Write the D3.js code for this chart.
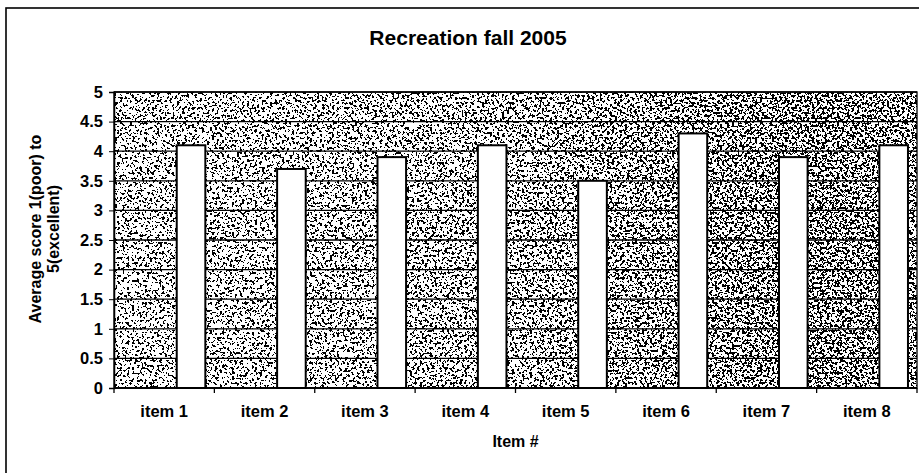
<!DOCTYPE html>
<html>
<head>
<meta charset="utf-8">
<script src="https://cdn.jsdelivr.net/npm/d3@7"></script>
<style>
  body { margin: 0; background: #fff; }
  svg { display: block; font-family: "Liberation Sans", Arial, sans-serif; font-weight: bold; }
</style>
</head>
<body>
<div id="chart"></div>
<script>
var svgWidth = 919;
var svgHeight = 473;

// chart data
var items = ["item 1", "item 2", "item 3", "item 4", "item 5", "item 6", "item 7", "item 8"];
var scores = [4.1, 3.7, 3.9, 4.1, 3.5, 4.3, 3.9, 4.1];
var yTicks = [0, 0.5, 1, 1.5, 2, 2.5, 3, 3.5, 4, 4.5, 5];

var plot = { left: 114, right: 917, top: 92, bottom: 388 };

var svg = d3.select("#chart").append("svg")
    .attr("width", svgWidth)
    .attr("height", svgHeight);

// speckled grey texture of the plot area
var defs = svg.append("defs");
var grad = defs.append("linearGradient").attr("id", "shade");
grad.append("stop").attr("offset", "0%").attr("stop-color", "rgb(149,149,149)");
grad.append("stop").attr("offset", "50%").attr("stop-color", "rgb(143,143,143)");
grad.append("stop").attr("offset", "88%").attr("stop-color", "rgb(131,131,131)");
grad.append("stop").attr("offset", "100%").attr("stop-color", "rgb(135,135,135)");

var grain = defs.append("filter").attr("id", "grain")
    .attr("x", 0).attr("y", 0).attr("width", 1).attr("height", 1)
    .attr("color-interpolation-filters", "sRGB");
grain.append("feTurbulence")
    .attr("type", "fractalNoise").attr("baseFrequency", 0.4)
    .attr("numOctaves", 2).attr("seed", 7).attr("result", "noise");
grain.append("feColorMatrix").attr("in", "noise").attr("type", "matrix")
    .attr("values", "-1 0 0 0 1  -1 0 0 0 1  -1 0 0 0 1  0 0 0 0 1")
    .attr("result", "inv");
grain.append("feComposite").attr("in", "SourceGraphic").attr("in2", "inv")
    .attr("operator", "arithmetic")
    .attr("k1", 0).attr("k2", 1).attr("k3", 1).attr("k4", -0.5)
    .attr("result", "mix");
var ct = grain.append("feComponentTransfer").attr("in", "mix");
["feFuncR", "feFuncG", "feFuncB"].forEach(function(f) {
    ct.append(f).attr("type", "discrete").attr("tableValues", "0 1");
});
ct.append("feFuncA").attr("type", "linear").attr("slope", 0).attr("intercept", 1);

// outer frame
svg.append("rect")
    .attr("x", 6).attr("y", 8)
    .attr("width", 940).attr("height", 480)
    .attr("fill", "none").attr("stroke", "#000").attr("stroke-width", 1.6);

var xScale = d3.scaleBand()
    .domain(items)
    .range([plot.left, plot.right])
    .padding(0);

var yScale = d3.scaleLinear()
    .domain([0, 5])
    .range([plot.bottom, plot.top]);

// plot area background
svg.append("rect")
    .attr("x", plot.left).attr("y", plot.top)
    .attr("width", plot.right - plot.left).attr("height", plot.bottom - plot.top)
    .attr("fill", "url(#shade)")
    .attr("filter", "url(#grain)");

// gridlines
svg.append("g").selectAll("line")
    .data(yTicks)
    .enter().append("line")
    .attr("x1", plot.left).attr("x2", plot.right)
    .attr("y1", d => yScale(d)).attr("y2", d => yScale(d))
    .attr("stroke", "#000").attr("stroke-width", 1.3);

svg.append("rect")
    .attr("x", plot.left).attr("y", plot.top)
    .attr("width", plot.right - plot.left).attr("height", plot.bottom - plot.top)
    .attr("fill", "none").attr("stroke", "#000").attr("stroke-width", 1.3);

// bars (sit right of the category centre)
var bw = xScale.bandwidth();
svg.append("g").selectAll("rect")
    .data(scores)
    .enter().append("rect")
    .attr("x", (d, i) => xScale(items[i]) + bw * 0.625)
    .attr("width", bw * 0.285)
    .attr("y", d => yScale(d))
    .attr("height", d => yScale(0) - yScale(d))
    .attr("fill", "#fff")
    .attr("stroke", "#000")
    .attr("stroke-width", 2);

// y axis
var yAxis = svg.append("g")
    .attr("transform", `translate(${plot.left},0)`)
    .call(d3.axisLeft(yScale).tickValues(yTicks).tickSize(5).tickPadding(6).tickFormat(d3.format("")));
yAxis.selectAll("text").attr("font-size", 16.5).attr("font-family", "Liberation Sans, Arial, sans-serif").attr("font-weight", "bold").attr("fill", "#000");
yAxis.select(".domain").attr("stroke-width", 1.5);

// x axis: ticks on category boundaries
var xAxis = svg.append("g")
    .attr("transform", `translate(0,${plot.bottom})`);
xAxis.append("line")
    .attr("x1", plot.left).attr("x2", plot.right)
    .attr("stroke", "#000").attr("stroke-width", 1.5);
xAxis.selectAll(".tick")
    .data(items.concat(["end"]))
    .enter().append("line")
    .attr("x1", (d, i) => i < items.length ? xScale(d) : plot.right)
    .attr("x2", (d, i) => i < items.length ? xScale(d) : plot.right)
    .attr("y1", 0).attr("y2", 5)
    .attr("stroke", "#000").attr("stroke-width", 1.3);
xAxis.selectAll("text")
    .data(items)
    .enter().append("text")
    .attr("x", d => xScale(d) + bw / 2)
    .attr("y", 29)
    .attr("text-anchor", "middle")
    .attr("font-size", 16.5)
    .text(d => d);

// titles
svg.append("text")
    .attr("x", 468).attr("y", 45)
    .attr("text-anchor", "middle")
    .attr("font-size", 21)
    .text("Recreation fall 2005");

svg.append("text")
    .attr("x", (plot.left + plot.right) / 2).attr("y", 447)
    .attr("text-anchor", "middle")
    .attr("font-size", 16)
    .text("Item #");

var yTitle = svg.append("text")
    .attr("transform", "translate(41,229) rotate(-90)")
    .attr("text-anchor", "middle")
    .attr("font-size", 16);
yTitle.append("tspan").attr("x", 0).attr("dy", 0).text("Average score 1(poor) to");
yTitle.append("tspan").attr("x", 0).attr("dy", 18).text("5(excellent)");
</script>
</body>
</html>
